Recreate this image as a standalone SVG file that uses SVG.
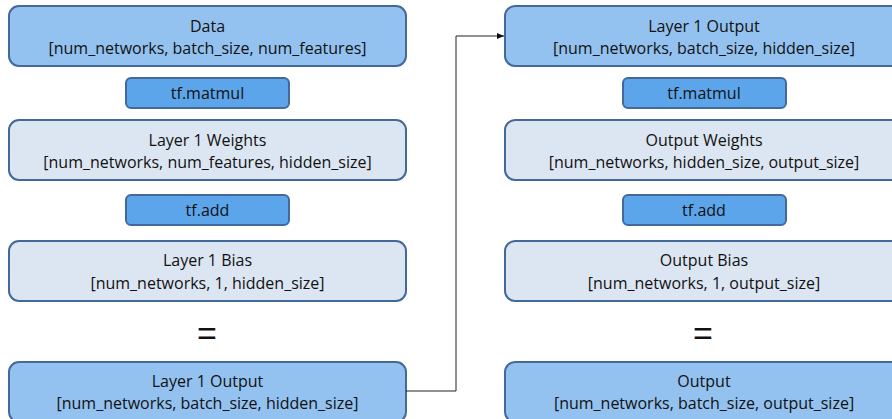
<svg xmlns="http://www.w3.org/2000/svg" width="892" height="419" viewBox="0 0 892 419">
<defs>
<style>
.big{fill:#93C2F0;stroke:#43689A;stroke-width:2}
.lite{fill:#DCE6F2;stroke:#43689A;stroke-width:2}
.op{fill:#5DA5EA;stroke:#43689A;stroke-width:2}
text{font-family:"Open Sans","Noto Sans",sans-serif;font-size:16px;fill:#111;text-anchor:middle}
.eq{font-size:34px;font-family:"Liberation Sans",sans-serif}
.conn{fill:none;stroke:#222;stroke-width:1}
</style>
<marker id="arr" markerWidth="8" markerHeight="8" refX="7" refY="4" orient="auto" markerUnits="userSpaceOnUse">
<path d="M0,1 L7,4 L0,7 z" fill="#111"/>
</marker>
</defs>
<rect width="892" height="419" fill="#fff"/>
<g id="left">
<g id="data"><rect class="big" x="9" y="6" width="397" height="60" rx="10"/><text x="207.5" y="31.5">Data</text><text x="207.5" y="54">[num_networks, batch_size, num_features]</text></g>
<g id="matmul1"><rect class="op" x="126" y="78" width="163" height="30" rx="5"/><text x="207.5" y="98.5">tf.matmul</text></g>
<g id="w1"><rect class="lite" x="9" y="120" width="397" height="60" rx="10"/><text x="207.5" y="145.5">Layer 1 Weights</text><text x="207.5" y="168">[num_networks, num_features, hidden_size]</text></g>
<g id="add1"><rect class="op" x="126" y="195" width="163" height="30" rx="5"/><text x="207.5" y="215.5">tf.add</text></g>
<g id="b1"><rect class="lite" x="9" y="241" width="397" height="60" rx="10"/><text x="207.5" y="266">Layer 1 Bias</text><text x="207.5" y="288.5">[num_networks, 1, hidden_size]</text></g>
<g id="eq1"><text class="eq" x="207" y="345">=</text></g>
<g id="out1"><rect class="big" x="9" y="362" width="397" height="60" rx="10"/><text x="207.5" y="386.5">Layer 1 Output</text><text x="207.5" y="409">[num_networks, batch_size, hidden_size]</text></g>
</g>
<g id="right">
<g id="in2"><rect class="big" x="505" y="6" width="397" height="60" rx="10"/><text x="704" y="31.5">Layer 1 Output</text><text x="704" y="54">[num_networks, batch_size, hidden_size]</text></g>
<g id="matmul2"><rect class="op" x="623" y="78" width="163" height="30" rx="5"/><text x="704" y="98.5">tf.matmul</text></g>
<g id="w2"><rect class="lite" x="505" y="120" width="397" height="60" rx="10"/><text x="704" y="145.5">Output Weights</text><text x="704" y="168">[num_networks, hidden_size, output_size]</text></g>
<g id="add2"><rect class="op" x="623" y="195" width="163" height="30" rx="5"/><text x="704" y="215.5">tf.add</text></g>
<g id="b2"><rect class="lite" x="505" y="241" width="397" height="60" rx="10"/><text x="704" y="266">Output Bias</text><text x="704" y="288.5">[num_networks, 1, output_size]</text></g>
<g id="eq2"><text class="eq" x="703" y="345">=</text></g>
<g id="out2"><rect class="big" x="505" y="362" width="397" height="60" rx="10"/><text x="704" y="386.5">Output</text><text x="704" y="409">[num_networks, batch_size, output_size]</text></g>
</g>
<g id="connectors">
<path class="conn" d="M406,391 H456 V36 H504" marker-end="url(#arr)"/>
</g>
</svg>
